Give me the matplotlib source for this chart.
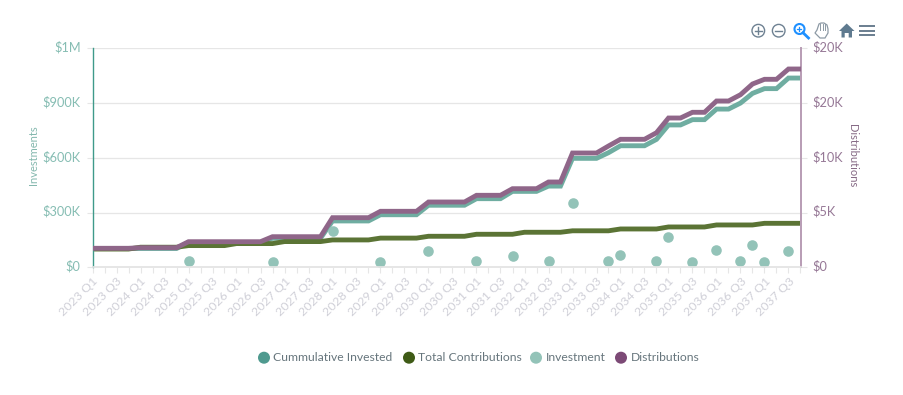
import matplotlib

matplotlib.use('Agg')

import matplotlib.pyplot as plt
import matplotlib.transforms as mtrans
import numpy as np
from matplotlib.lines import Line2D
from matplotlib.patches import Circle, Polygon, Rectangle

W, H = 904, 395

years = range(2023, 2038)
quarters = [f"{y} Q{q}" for y in years for q in (1, 2, 3, 4)]

# values, left axis in $K
invested = [103, 103, 103, 103, 103, 103, 103, 103,
            136, 136, 136, 136, 136, 136, 136,
            159, 159, 159, 159, 159,
            254, 254, 254, 254, 288, 288, 288, 288,
            340, 340, 340, 340, 376, 376, 376,
            416, 416, 416, 445, 445,
            597, 597, 597, 628, 666, 666, 666, 701,
            780, 780, 809, 809, 867, 867, 900, 953,
            979, 979, 1037, 1037]
contributions = [100, 100, 100, 100, 110, 110, 110, 110,
                 119, 119, 119, 119, 130, 130, 130, 130,
                 141, 141, 141, 141, 150, 150, 150, 150,
                 160, 160, 160, 160, 170, 170, 170, 170,
                 181, 181, 181, 181, 192, 192, 192, 192,
                 200, 200, 200, 200, 210, 210, 210, 210,
                 221, 221, 221, 221, 232, 232, 232, 232,
                 241, 241, 241, 241]
invest_idx = [8, 15, 20, 24, 28, 32, 35, 38, 40, 43, 44, 47, 48, 50, 52, 54, 55, 56, 58]
invest_vals = [35, 27, 200, 31, 88, 35, 64, 33, 354, 33, 67, 36, 164, 31, 95, 33, 121, 29, 88]

# right axis in $
distributions = [1735, 1735, 1735, 1735, 1790, 1790, 1790, 1790,
                 2338, 2338, 2338, 2338, 2338, 2338, 2338,
                 2794, 2794, 2794, 2794, 2794,
                 4530, 4530, 4530, 4530, 5114, 5114, 5114, 5114,
                 5963, 5963, 5963, 5963, 6575, 6575, 6575,
                 7178, 7178, 7178, 7790, 7790,
                 10438, 10438, 10438, 11077, 11689, 11689, 11689, 12292,
                 13634, 13634, 14155, 14155, 15187, 15187, 15762, 16739,
                 17168, 17168, 18109, 18109]

left_ticks = [0, 300, 600, 900, 1200]
left_labels = ['$0', '$300K', '$600K', '$900K', '$1M']
right_ticks = [0, 5000, 10000, 15000, 20000]
right_labels = ['$0', '$5K', '$10K', '$20K', '$20K']

legend_names = ['Cummulative Invested', 'Total Contributions', 'Investment', 'Distributions']

TEAL = '#6fada1'
GREEN = '#5b7435'
DOT = '#93c3b8'
PURPLE = '#8f6689'
GRID = '#e6e6e6'

plt.rcParams['font.family'] = ['Lato', 'DejaVu Sans']

fig = plt.figure(figsize=(W / 100, H / 100), dpi=100)
ax = fig.add_axes([92.5 / W, 1 - 267.3 / H, 708 / W, 219 / H])
ax2 = ax.twinx()

x = np.arange(len(quarters))
ax.plot(x, invested, color=TEAL, lw=3.5, solid_joinstyle='miter', zorder=3)
ax.plot(x, contributions, color=GREEN, lw=3.5, solid_joinstyle='miter', zorder=4)
ax.scatter(invest_idx, invest_vals, s=58, color=DOT, linewidths=0, zorder=5, clip_on=False)
ax2.plot(x, distributions, color=PURPLE, lw=3.5, solid_joinstyle='miter', zorder=3)

ax.set_xlim(0, len(quarters) - 1)
ax.set_ylim(0, 1200)
ax2.set_ylim(0, 20000)

ax.set_xticks(x)
ax.set_xticklabels([q if i % 2 == 0 else '' for i, q in enumerate(quarters)],
                   rotation=45, ha='right', rotation_mode='anchor',
                   fontsize=8.9, color='#d0d0d8')
ax.tick_params(axis='x', length=4.5, width=0.8, color=GRID, pad=1.5)

ax.set_yticks(left_ticks)
ax.set_yticklabels(left_labels, fontsize=9.2, color='#86bdb3')
ax.tick_params(axis='y', length=4.5, width=0.8, color=GRID, pad=4)
ax.grid(axis='y', color=GRID, lw=0.9)
ax.set_axisbelow(True)

ax2.set_yticks(right_ticks)
ax2.set_yticklabels(right_labels, fontsize=9.2, color='#967896')
ax2.tick_params(axis='y', length=4.5, width=0.8, color=GRID, pad=4)

# the y labels sit 2px above their ticks
up = mtrans.ScaledTranslation(0, 0.02, fig.dpi_scale_trans)
for label in ax.get_yticklabels() + ax2.get_yticklabels():
    label.set_transform(label.get_transform() + up)

ax.spines['left'].set_visible(False)
ax.spines['right'].set_visible(False)
ax2.spines['left'].set_color('#3f9a8a')
ax2.spines['left'].set_linewidth(1.0)
ax2.spines['right'].set_color('#b89cb4')
ax2.spines['right'].set_linewidth(1.4)
for a in (ax, ax2):
    a.spines['top'].set_visible(False)
    a.spines['bottom'].set_color(GRID)
    a.spines['bottom'].set_linewidth(1.2)

ax.set_ylabel('Investments', fontsize=8.0, color='#84b8ae', va='center')
ax.yaxis.set_label_coords((33 - 92.5) / 708, 0.51)
ax2.set_ylabel('Distributions', fontsize=8.0, color='#866a85', rotation=270, va='center')
ax2.yaxis.set_label_coords((853 - 92.5) / 708, 0.51)

# overlay in pixel coordinates for the legend and the toolbar
over = fig.add_axes([0, 0, 1, 1], facecolor='none')
over.set_xlim(0, W)
over.set_ylim(H, 0)
over.axis('off')

legend_colors = ['#4f9a8f', '#3f5b16', '#93c3b8', '#7c4a76']
legend_dot_x = [264, 409, 536, 621]
for name, c, lx in zip(legend_names, legend_colors, legend_dot_x):
    over.add_patch(Circle((lx, 357.7), 6, color=c, lw=0))
    over.text(lx + 9.5, 357.7, name, fontsize=8.7, color='#66757c', va='center', ha='left')

ICON = '#6e8192'
for cx in (758.3, 778.7):
    over.add_patch(Circle((cx, 30.7), 6.3, fill=False, ec=ICON, lw=1.0))
    over.add_line(Line2D([cx - 3.5, cx + 3.5], [30.7, 30.7], color=ICON, lw=1.0))
over.add_line(Line2D([758.3, 758.3], [27.2, 34.2], color=ICON, lw=1.0))

BLUE = '#1e90ff'
over.add_patch(Circle((799.5, 29), 5, fill=False, ec=BLUE, lw=1.5))
over.add_line(Line2D([803, 808.5], [32.7, 38], color=BLUE, lw=2.0))
over.add_line(Line2D([797.5, 801.5], [29, 29], color=BLUE, lw=0.9))
over.add_line(Line2D([799.5, 799.5], [27, 31], color=BLUE, lw=0.9))

hand = [(817, 30), (819, 24), (821, 23), (824, 23), (827, 25), (828, 29), (828, 33),
        (825, 38), (820, 38), (815, 33)]
over.add_patch(Polygon(hand, closed=True, fill=False, ec='#8d9aa5', lw=0.9))
for hx in (820.5, 823, 825.5):
    over.add_line(Line2D([hx, hx], [24, 30], color='#8d9aa5', lw=0.7))

HOME = '#5f7a8f'
over.add_patch(Polygon([(839, 31), (846.7, 23.5), (854.5, 31), (852, 31), (852, 37.5),
                        (848.7, 37.5), (848.7, 33), (844.7, 33), (844.7, 37.5),
                        (841.5, 37.5), (841.5, 31)], closed=True, color=HOME, lw=0))
for my in (26.3, 30.7, 35):
    over.add_patch(Rectangle((859, my - 1.1), 16, 2.2, color=ICON, lw=0))

fig.savefig('out.png', dpi=100, facecolor='white')
